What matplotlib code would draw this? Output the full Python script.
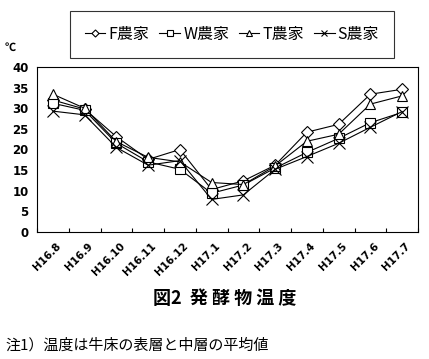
import matplotlib
matplotlib.use("Agg")
import matplotlib.pyplot as plt
import numpy as np

plt.rcParams['font.family'] = ['Noto Sans CJK JP', 'DejaVu Sans']

months = ["H16.8", "H16.9", "H16.10", "H16.11", "H16.12", "H17.1",
          "H17.2", "H17.3", "H17.4", "H17.5", "H17.6", "H17.7"]
f_farm = [32.0, 29.8, 23.1, 17.6, 20.0, 10.3, 12.4, 16.2, 24.2, 26.1, 33.4, 34.6]
w_farm = [31.2, 29.5, 21.5, 17.0, 15.2, 9.4, 11.4, 15.5, 19.3, 22.7, 26.5, 29.0]
t_farm = [33.4, 30.0, 21.9, 18.1, 17.0, 12.0, 11.5, 16.0, 22.0, 23.7, 31.0, 33.0]
s_farm = [29.3, 28.4, 20.5, 16.2, 17.3, 7.9, 9.0, 15.2, 18.3, 21.5, 25.4, 29.2]
series = [("F農家", f_farm, "D"), ("W農家", w_farm, "s"),
          ("T農家", t_farm, "^"), ("S農家", s_farm, "x")]

fig = plt.figure(figsize=(4.29, 3.59), dpi=100)
ax = fig.add_axes([37/429, 1-232/359, 381/429, 165/359])
x = np.arange(len(months))
sizes = {"D": 6, "s": 7, "^": 7.5, "x": 8}
for name, vals, mk in series:
    ax.plot(x, vals, color="black", lw=0.8, marker=mk, ms=sizes[mk],
            mfc="white", mec="black", mew=0.8, label=name)

ax.set_xlim(-0.5, len(months) - 0.5)
ax.set_ylim(0, 40)
ax.set_yticks(range(0, 41, 5))
ax.set_yticklabels([str(v) for v in range(0, 41, 5)], fontsize=8.5,
                   fontweight="bold", family="DejaVu Sans")
ax.set_xticks(np.arange(-0.5, len(months) - 0.5 + 0.01, 1), minor=False)
ax.set_xticklabels([])
ax.tick_params(axis="x", direction="in", length=3, width=0.8)
ax.tick_params(axis="y", direction="out", length=0, pad=6)
for i, m in enumerate(months):
    ax.text(i + 0.1, -2.2, m, rotation=45, ha="right", va="top",
            fontsize=7.5, fontweight="bold", family="DejaVu Sans",
            rotation_mode="anchor")
for s in ax.spines.values():
    s.set_linewidth(0.8)

fig.text(5/429, 1-47/359, "℃", fontsize=8, fontweight="bold",
         ha="left", va="center")

leg = fig.legend(loc="center", bbox_to_anchor=(232/429, 1-34.5/359), ncol=4,
                 frameon=True, fancybox=False, edgecolor="black",
                 fontsize=11.5, handlelength=1.3, handletextpad=0.2,
                 columnspacing=0.6, borderpad=0.95, markerscale=0.6)
leg.get_frame().set_linewidth(0.8)

fig.text(225/429, 1-298/359, "図2  発 酵 物 温 度", fontsize=13,
         fontweight="bold", ha="center", va="center")
fig.text(5/429, 1-345/359, "注1）温度は牛床の表層と中層の平均値", fontsize=10.8,
         ha="left", va="center")

fig.savefig("out.png", dpi=100)
